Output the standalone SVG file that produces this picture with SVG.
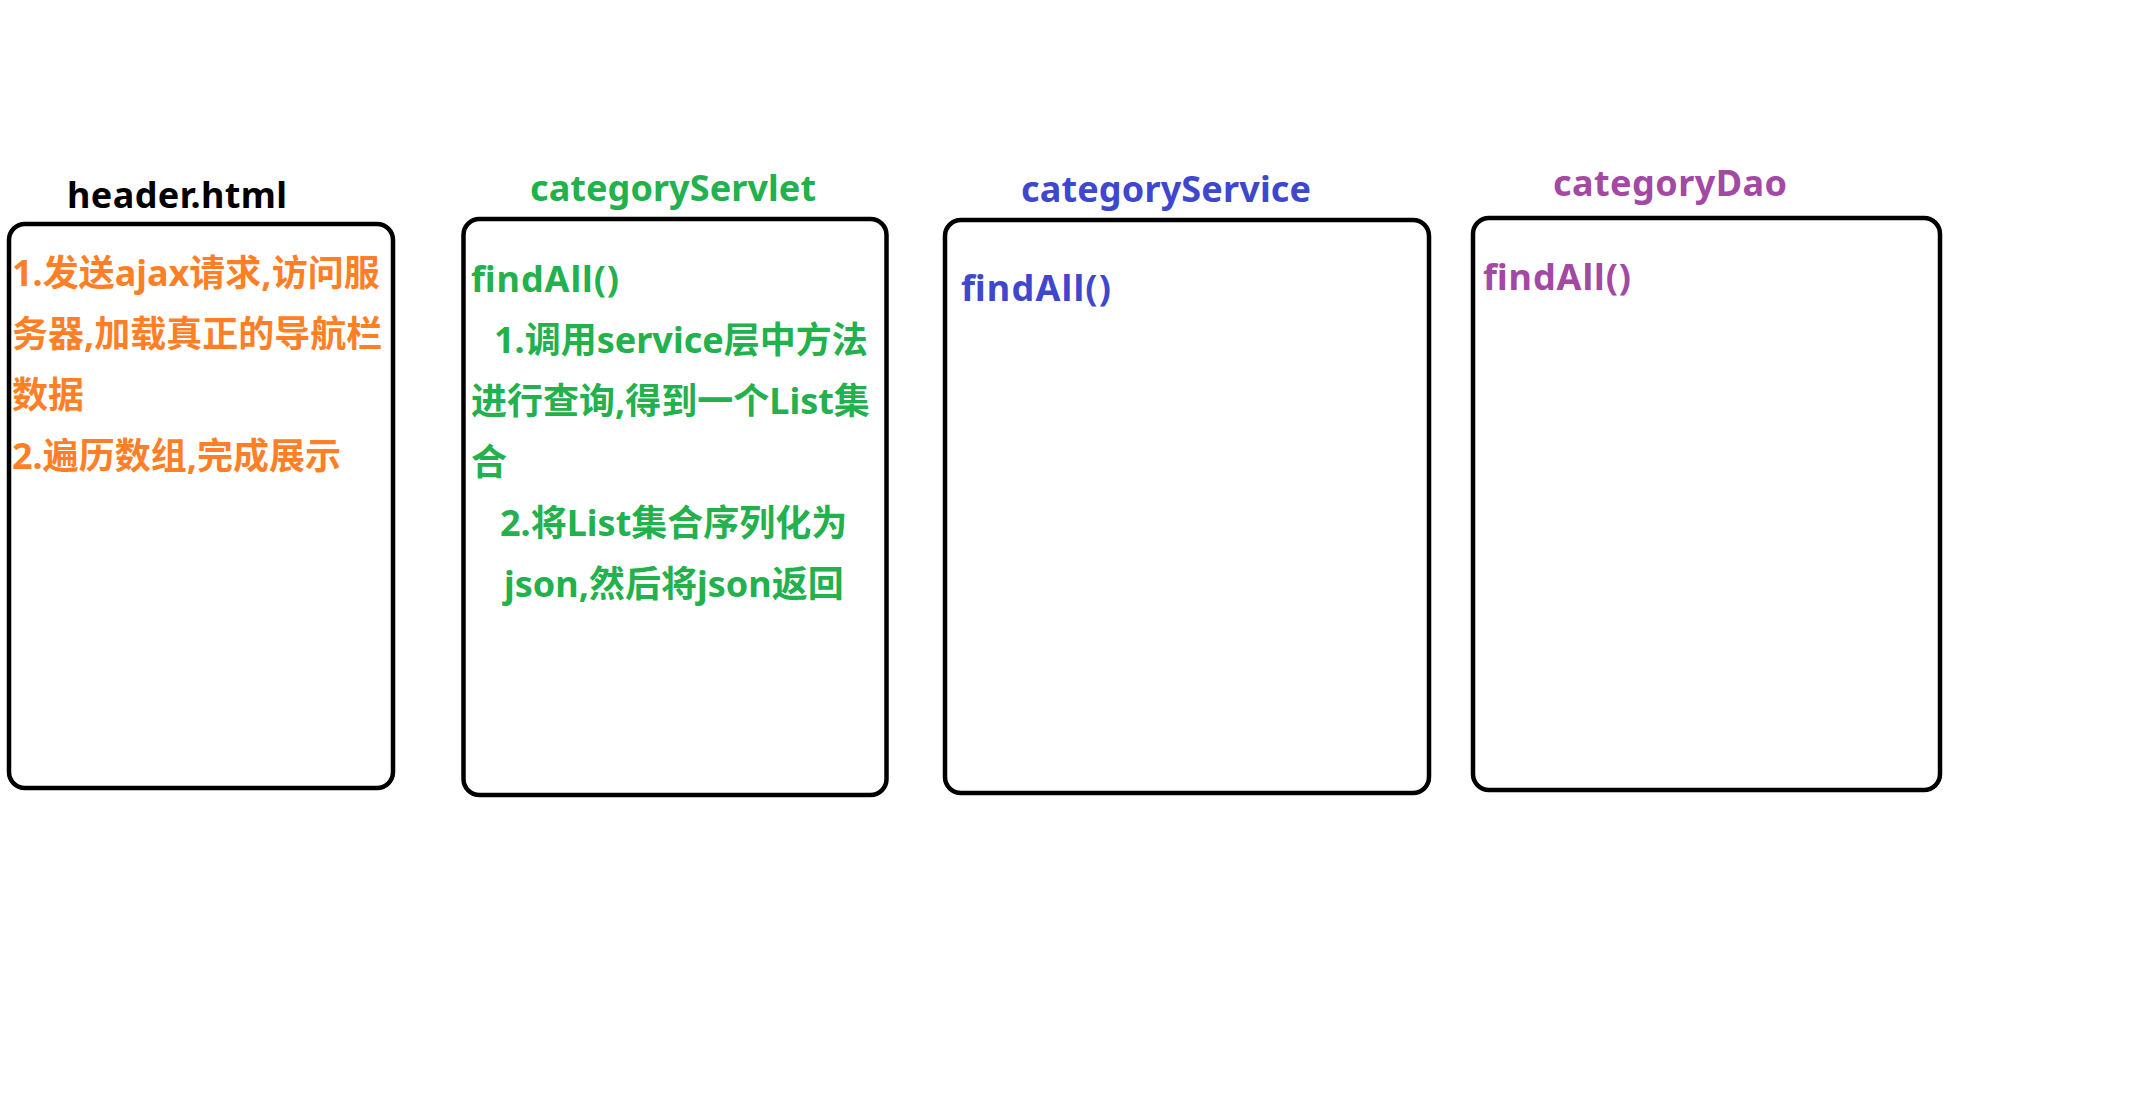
<svg xmlns="http://www.w3.org/2000/svg" width="2145" height="1114" viewBox="0 0 2145 1114">
<style>
  .box { fill: #ffffff; stroke: #000000; stroke-width: 4.5; }
  .t { font-family: "Noto Sans", "Noto Sans CJK SC", sans-serif; font-weight: bold; font-size: 36px; white-space: pre; }
  .black { fill: #000000; }
  .orange { fill: #FF7F27; }
  .green { fill: #22B14C; }
  .blue { fill: #3F48CC; }
  .purple { fill: #A349A4; }
</style>
<rect x="0" y="0" width="2145" height="1114" fill="#ffffff"/>
<g id="connectors"></g>
<g id="node-header">
  <text class="t black" x="67" y="208" textLength="220" lengthAdjust="spacing">header.html</text>
  <rect class="box" x="9" y="224" width="384" height="564" rx="16" ry="16"/>
  <text class="t orange" x="12" y="286">1.发送ajax请求,访问服</text>
  <text class="t orange" x="12" y="347">务器,加载真正的导航栏</text>
  <text class="t orange" x="12" y="408">数据</text>
  <text class="t orange" x="12" y="469">2.遍历数组,完成展示</text>
</g>
<g id="node-servlet">
  <text class="t green" x="530" y="201" textLength="286" lengthAdjust="spacing">categoryServlet</text>
  <rect class="box" x="463.5" y="219" width="423" height="576" rx="16" ry="16"/>
  <text class="t green" x="471" y="292" textLength="148" lengthAdjust="spacing">findAll()</text>
  <text class="t green" x="494" y="353">1.调用service层中方法</text>
  <text class="t green" x="471" y="414">进行查询,得到一个List集</text>
  <text class="t green" x="471" y="475">合</text>
  <text class="t green" x="500" y="536">2.将List集合序列化为</text>
  <text class="t green" x="504" y="597">json,然后将json返回</text>
</g>
<g id="node-service">
  <text class="t blue" x="1021" y="202" textLength="290" lengthAdjust="spacing">categoryService</text>
  <rect class="box" x="945" y="220" width="484" height="573" rx="16" ry="16"/>
  <text class="t blue" x="961" y="301" textLength="150" lengthAdjust="spacing">findAll()</text>
</g>
<g id="node-dao">
  <text class="t purple" x="1553" y="196" textLength="234" lengthAdjust="spacing">categoryDao</text>
  <rect class="box" x="1473" y="218" width="467" height="572" rx="16" ry="16"/>
  <text class="t purple" x="1483" y="290" textLength="148" lengthAdjust="spacing">findAll()</text>
</g>
</svg>
